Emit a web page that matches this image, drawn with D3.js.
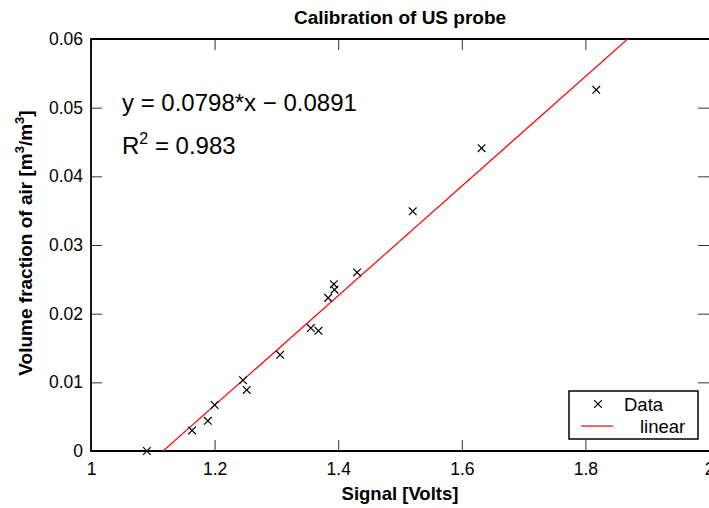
<!DOCTYPE html>
<html>
<head>
<meta charset="utf-8">
<script src="https://cdn.jsdelivr.net/npm/d3@7"></script>
<style>
    html, body { margin: 0; padding: 0; background: #fff; }
    svg { display: block; font-family: "Liberation Sans", Arial, Helvetica, sans-serif; }
</style>
</head>
<body>
<div id="chart"></div>
<script>
// Data
const signalVolts = [1.0905, 1.1635, 1.189, 1.2, 1.246, 1.252, 1.306, 1.3557, 1.368,
    1.3837, 1.394, 1.393, 1.4306, 1.5206, 1.632, 1.8176];
const airFraction = [0.0, 0.0030, 0.0044, 0.0067, 0.0103, 0.0089, 0.0140, 0.0179, 0.0175,
    0.0223, 0.0235, 0.0243, 0.0260, 0.0349, 0.0441, 0.0526];

const fitSlope = 0.0798;
const fitIntercept = -0.0891;

const xTicks = [1, 1.2, 1.4, 1.6, 1.8, 2];
const xTickLabels = ['1', '1.2', '1.4', '1.6', '1.8', '2'];
const yTicks = [0, 0.01, 0.02, 0.03, 0.04, 0.05, 0.06];
const yTickLabels = ['0', '0.01', '0.02', '0.03', '0.04', '0.05', '0.06'];

const legendLabels = ['Data', 'linear'];

const WIDTH = 709;
const HEIGHT = 508;
const plot = { left: 91, top: 39, right: 709, bottom: 451 };
const TICK = 11;

const svg = d3.select('#chart').append('svg')
    .attr('width', WIDTH)
    .attr('height', HEIGHT);

const x = d3.scaleLinear().domain([1, 2]).range([plot.left, plot.right]);
const y = d3.scaleLinear().domain([0, 0.06]).range([plot.bottom, plot.top]);

svg.append('defs').append('clipPath')
    .attr('id', 'plot-clip')
    .append('rect')
    .attr('x', plot.left)
    .attr('y', plot.top)
    .attr('width', plot.right - plot.left)
    .attr('height', plot.bottom - plot.top);

// axes, ticks pointing inwards
function styleAxis(g) {
    g.select('.domain').remove();
    g.selectAll('.tick line').attr('stroke', '#333').attr('stroke-width', 1);
    g.selectAll('.tick text')
        .attr('fill', '#000')
        .style('font-size', '17.5px');
}

svg.append('g')
    .attr('transform', `translate(0,${plot.bottom})`)
    .call(d3.axisBottom(x).tickValues(xTicks)
        .tickFormat((d, i) => xTickLabels[i])
        .tickSizeInner(-TICK).tickSizeOuter(0).tickPadding(12))
    .call(styleAxis);

svg.append('g')
    .attr('transform', `translate(0,${plot.top})`)
    .call(d3.axisTop(x).tickValues(xTicks).tickFormat('')
        .tickSizeInner(-TICK).tickSizeOuter(0))
    .call(styleAxis);

svg.append('g')
    .attr('transform', `translate(${plot.left},0)`)
    .call(d3.axisLeft(y).tickValues(yTicks)
        .tickFormat((d, i) => yTickLabels[i])
        .tickSizeInner(-TICK).tickSizeOuter(0).tickPadding(8))
    .call(styleAxis);

svg.append('g')
    .attr('transform', `translate(${plot.right},0)`)
    .call(d3.axisRight(y).tickValues(yTicks).tickFormat('')
        .tickSizeInner(-TICK).tickSizeOuter(0))
    .call(styleAxis);

// frame (left, top, bottom; right edge sits at the window edge)
svg.append('path')
    .attr('d', `M${plot.right},${plot.top}H${plot.left}V${plot.bottom}H${plot.right}`)
    .attr('fill', 'none')
    .attr('stroke', '#000')
    .attr('stroke-width', 1.8);

// fitted line
const fitLine = d3.line()
    .x(d => x(d))
    .y(d => y(fitSlope * d + fitIntercept));

svg.append('path')
    .datum(x.domain())
    .attr('clip-path', 'url(#plot-clip)')
    .attr('d', fitLine)
    .attr('fill', 'none')
    .attr('stroke', '#ff0000')
    .attr('stroke-width', 1.2);

// data markers
const cross = d3.symbol().type(d3.symbolTimes).size(40);
const points = signalVolts.map((v, i) => ({ x: v, y: airFraction[i] }));

svg.append('g')
    .selectAll('path')
    .data(points)
    .join('path')
    .attr('transform', d => `translate(${x(d.x)},${y(d.y)})`)
    .attr('d', cross)
    .attr('fill', 'none')
    .attr('stroke', '#000')
    .attr('stroke-width', 1.2);

// equation annotation
const eq = svg.append('g').style('font-size', '24px').attr('fill', '#000');
eq.append('text')
    .attr('x', 122)
    .attr('y', 111)
    .text(`y = ${fitSlope}*x \u2212 ${Math.abs(fitIntercept)}`);
const r2 = eq.append('text').attr('x', 122).attr('y', 154);
r2.append('tspan').text('R');
r2.append('tspan').attr('dy', -10).style('font-size', '16px').text('2');
r2.append('tspan').attr('dy', 10).text(' = 0.983');

// title and axis labels
svg.append('text')
    .attr('x', (plot.left + plot.right) / 2)
    .attr('y', 24)
    .attr('text-anchor', 'middle')
    .style('font-size', '19px')
    .style('font-weight', 'bold')
    .text('Calibration of US probe');

svg.append('text')
    .attr('x', (plot.left + plot.right) / 2)
    .attr('y', 500)
    .attr('text-anchor', 'middle')
    .style('font-size', '18.5px')
    .style('font-weight', 'bold')
    .text('Signal [Volts]');

const yLabel = svg.append('text')
    .attr('transform', `translate(32,${(plot.top + plot.bottom) / 2 - 2}) rotate(-90)`)
    .attr('text-anchor', 'middle')
    .style('font-size', '19px')
    .style('font-weight', 'bold');
yLabel.append('tspan').text('Volume fraction of air [m');
yLabel.append('tspan').attr('dy', -8).style('font-size', '13px').text('3');
yLabel.append('tspan').attr('dy', 8).text('/m');
yLabel.append('tspan').attr('dy', -8).style('font-size', '13px').text('3');
yLabel.append('tspan').attr('dy', 8).text(']');

// legend
const legend = svg.append('g').attr('transform', 'translate(569,391)');
legend.append('rect')
    .attr('width', 129)
    .attr('height', 48)
    .attr('fill', '#fff')
    .attr('stroke', '#000')
    .attr('stroke-width', 1.5);
legend.append('path')
    .attr('transform', 'translate(29,13)')
    .attr('d', cross)
    .attr('fill', 'none')
    .attr('stroke', '#000')
    .attr('stroke-width', 1.2);
legend.append('line')
    .attr('x1', 12).attr('x2', 44)
    .attr('y1', 35).attr('y2', 35)
    .attr('stroke', '#ff0000')
    .attr('stroke-width', 1.2);
legend.selectAll('text.lbl')
    .data(legendLabels)
    .join('text')
    .attr('class', 'lbl')
    .attr('x', (d, i) => i === 0 ? 55 : 71)
    .attr('y', (d, i) => i === 0 ? 20 : 42)
    .style('font-size', '18.5px')
    .text(d => d);
</script>
</body>
</html>
